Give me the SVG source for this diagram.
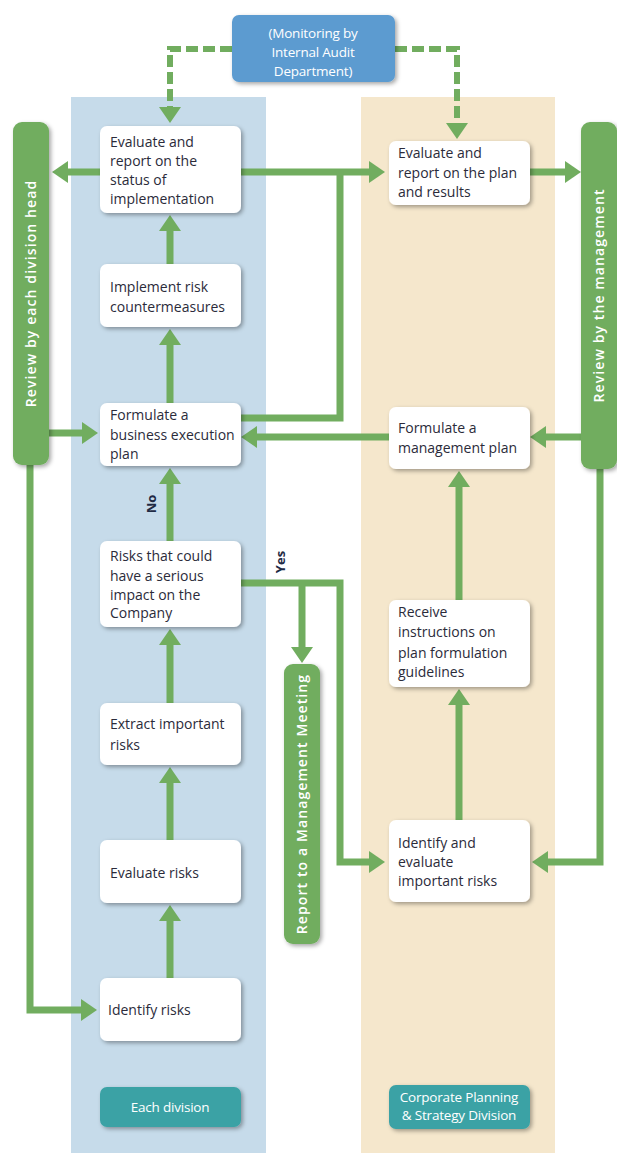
<svg xmlns="http://www.w3.org/2000/svg" width="617" height="1153" viewBox="0 0 617 1153">
<defs>
<filter id="sh" x="-20%" y="-20%" width="140%" height="140%">
<feDropShadow dx="2" dy="2" stdDeviation="2" flood-color="#000" flood-opacity="0.35"/>
</filter>
<marker id="ah" markerUnits="userSpaceOnUse" markerWidth="16" markerHeight="22" refX="0" refY="11" orient="auto">
<path d="M0,0 L16,11 L0,22 z" fill="#71ad5f"/>
</marker>
</defs>
<style>
.lane{stroke:none}
.node{fill:#fff;filter:url(#sh)}
.bar{fill:#71ad5f;filter:url(#sh)}
.teal{fill:#3ba2a5;filter:url(#sh)}
.t{font-family:"Open Sans","Liberation Sans",sans-serif;font-size:14px;fill:#2b2b3a;letter-spacing:0px}
.w{font-family:"Open Sans","Liberation Sans",sans-serif;font-size:13.5px;fill:#fff;text-anchor:middle;letter-spacing:-0.2px}
.bt{font-family:"Open Sans","Liberation Sans",sans-serif;font-size:14px;font-weight:600;fill:#fff;text-anchor:middle;letter-spacing:1.1px}
.c{fill:none;stroke:#71ad5f;stroke-width:7}
.d{fill:none;stroke:#71ad5f;stroke-width:6;stroke-dasharray:12 5}
.lbl{font-family:"Open Sans","Liberation Sans",sans-serif;font-size:13px;font-weight:700;fill:#1f2a44;text-anchor:middle}
</style>
<rect class="lane" x="71" y="97" width="195" height="1056" fill="#c6dbea"/>
<rect class="lane" x="361" y="97" width="194" height="1056" fill="#f5e7cc"/>

<g id="connectors">
<path class="d" d="M232,49 H170 V107" marker-end="url(#ah)"/>
<path class="d" d="M395,49 H457 V123" marker-end="url(#ah)"/>
<path class="c" d="M100,172 H68" marker-end="url(#ah)"/>
<path class="c" d="M241,172 H369" marker-end="url(#ah)"/>
<path class="c" d="M530,172 H565" marker-end="url(#ah)"/>
<path class="c" d="M241,418 H340 V172"/>
<path class="c" d="M389,437 H257" marker-end="url(#ah)"/>
<path class="c" d="M581,437 H546" marker-end="url(#ah)"/>
<path class="c" d="M49,433 H82" marker-end="url(#ah)"/>
<path class="c" d="M30,465 V1010 H81" marker-end="url(#ah)"/>
<path class="c" d="M600,469 V862 H548" marker-end="url(#ah)"/>
<path class="c" d="M241,583 H340 V862 H369" marker-end="url(#ah)"/>
<path class="c" d="M302,583 V647" marker-end="url(#ah)"/>
<path class="c" d="M170,978 V921" marker-end="url(#ah)"/>
<path class="c" d="M170,840 V783" marker-end="url(#ah)"/>
<path class="c" d="M170,703 V645" marker-end="url(#ah)"/>
<path class="c" d="M170,541 V484" marker-end="url(#ah)"/>
<path class="c" d="M170,403 V345" marker-end="url(#ah)"/>
<path class="c" d="M170,264 V231" marker-end="url(#ah)"/>
<path class="c" d="M459,820 V705" marker-end="url(#ah)"/>
<path class="c" d="M459,600 V487" marker-end="url(#ah)"/>
<text class="lbl" transform="translate(156,504) rotate(-90)">No</text>
<text class="lbl" transform="translate(285,562) rotate(-90)">Yes</text>
</g>

<g id="monitoring">
<rect x="232" y="15" width="163" height="67" rx="7" fill="#5b9bd0" filter="url(#sh)"/>
<text class="w" x="313" y="38">(Monitoring by</text>
<text class="w" x="313" y="57">Internal Audit</text>
<text class="w" x="313" y="76">Department)</text>
</g>

<g id="review-division-head">
<rect class="bar" x="13" y="122" width="36" height="343" rx="9"/>
<text class="bt" transform="translate(36,293.5) rotate(-90)">Review by each division head</text>
</g>
<g id="review-management">
<rect class="bar" x="581" y="122" width="36" height="347" rx="9"/>
<text class="bt" transform="translate(604,295.5) rotate(-90)">Review by the management</text>
</g>
<g id="report-meeting">
<rect class="bar" x="284" y="664" width="36" height="280" rx="9"/>
<text class="bt" transform="translate(307,804) rotate(-90)">Report to a Management Meeting</text>
</g>

<g id="eval-status">
<rect class="node" x="100" y="126" width="141" height="87" rx="7"/>
<text class="t" x="110" y="147">Evaluate and</text>
<text class="t" x="110" y="166">report on the</text>
<text class="t" x="110" y="185">status of</text>
<text class="t" x="110" y="204">implementation</text>
</g>
<g id="implement">
<rect class="node" x="100" y="264" width="141" height="63" rx="7"/>
<text class="t" x="110" y="292">Implement risk</text>
<text class="t" x="110" y="312">countermeasures</text>
</g>
<g id="business-plan">
<rect class="node" x="100" y="403" width="141" height="63" rx="7"/>
<text class="t" x="110" y="420">Formulate a</text>
<text class="t" x="110" y="440">business execution</text>
<text class="t" x="110" y="459">plan</text>
</g>
<g id="serious-risks">
<rect class="node" x="100" y="541" width="141" height="86" rx="7"/>
<text class="t" x="110" y="561">Risks that could</text>
<text class="t" x="110" y="581">have a serious</text>
<text class="t" x="110" y="600">impact on the</text>
<text class="t" x="110" y="618">Company</text>
</g>
<g id="extract">
<rect class="node" x="100" y="703" width="141" height="62" rx="7"/>
<text class="t" x="110" y="729">Extract important</text>
<text class="t" x="110" y="750">risks</text>
</g>
<g id="evaluate-risks">
<rect class="node" x="100" y="840" width="141" height="63" rx="7"/>
<text class="t" x="110" y="878">Evaluate risks</text>
</g>
<g id="identify-risks">
<rect class="node" x="100" y="978" width="141" height="63" rx="7"/>
<text class="t" x="108" y="1015">Identify risks</text>
</g>
<g id="each-division">
<rect class="teal" x="100" y="1087" width="141" height="40" rx="7"/>
<text class="w" x="170" y="1112">Each division</text>
</g>

<g id="eval-plan">
<rect class="node" x="389" y="141" width="141" height="64" rx="7"/>
<text class="t" x="398" y="158">Evaluate and</text>
<text class="t" x="398" y="178">report on the plan</text>
<text class="t" x="398" y="197">and results</text>
</g>
<g id="management-plan">
<rect class="node" x="389" y="407" width="141" height="62" rx="7"/>
<text class="t" x="398" y="433">Formulate a</text>
<text class="t" x="398" y="453">management plan</text>
</g>
<g id="receive-instructions">
<rect class="node" x="389" y="600" width="141" height="87" rx="7"/>
<text class="t" x="398" y="617">Receive</text>
<text class="t" x="398" y="637">instructions on</text>
<text class="t" x="398" y="658">plan formulation</text>
<text class="t" x="398" y="677">guidelines</text>
</g>
<g id="identify-important">
<rect class="node" x="389" y="820" width="141" height="82" rx="7"/>
<text class="t" x="398" y="848">Identify and</text>
<text class="t" x="398" y="867">evaluate</text>
<text class="t" x="398" y="886">important risks</text>
</g>
<g id="corporate-planning">
<rect class="teal" x="389" y="1085" width="141" height="44" rx="7"/>
<text class="w" x="459" y="1102">Corporate Planning</text>
<text class="w" x="459" y="1120">&amp; Strategy Division</text>
</g>
</svg>
